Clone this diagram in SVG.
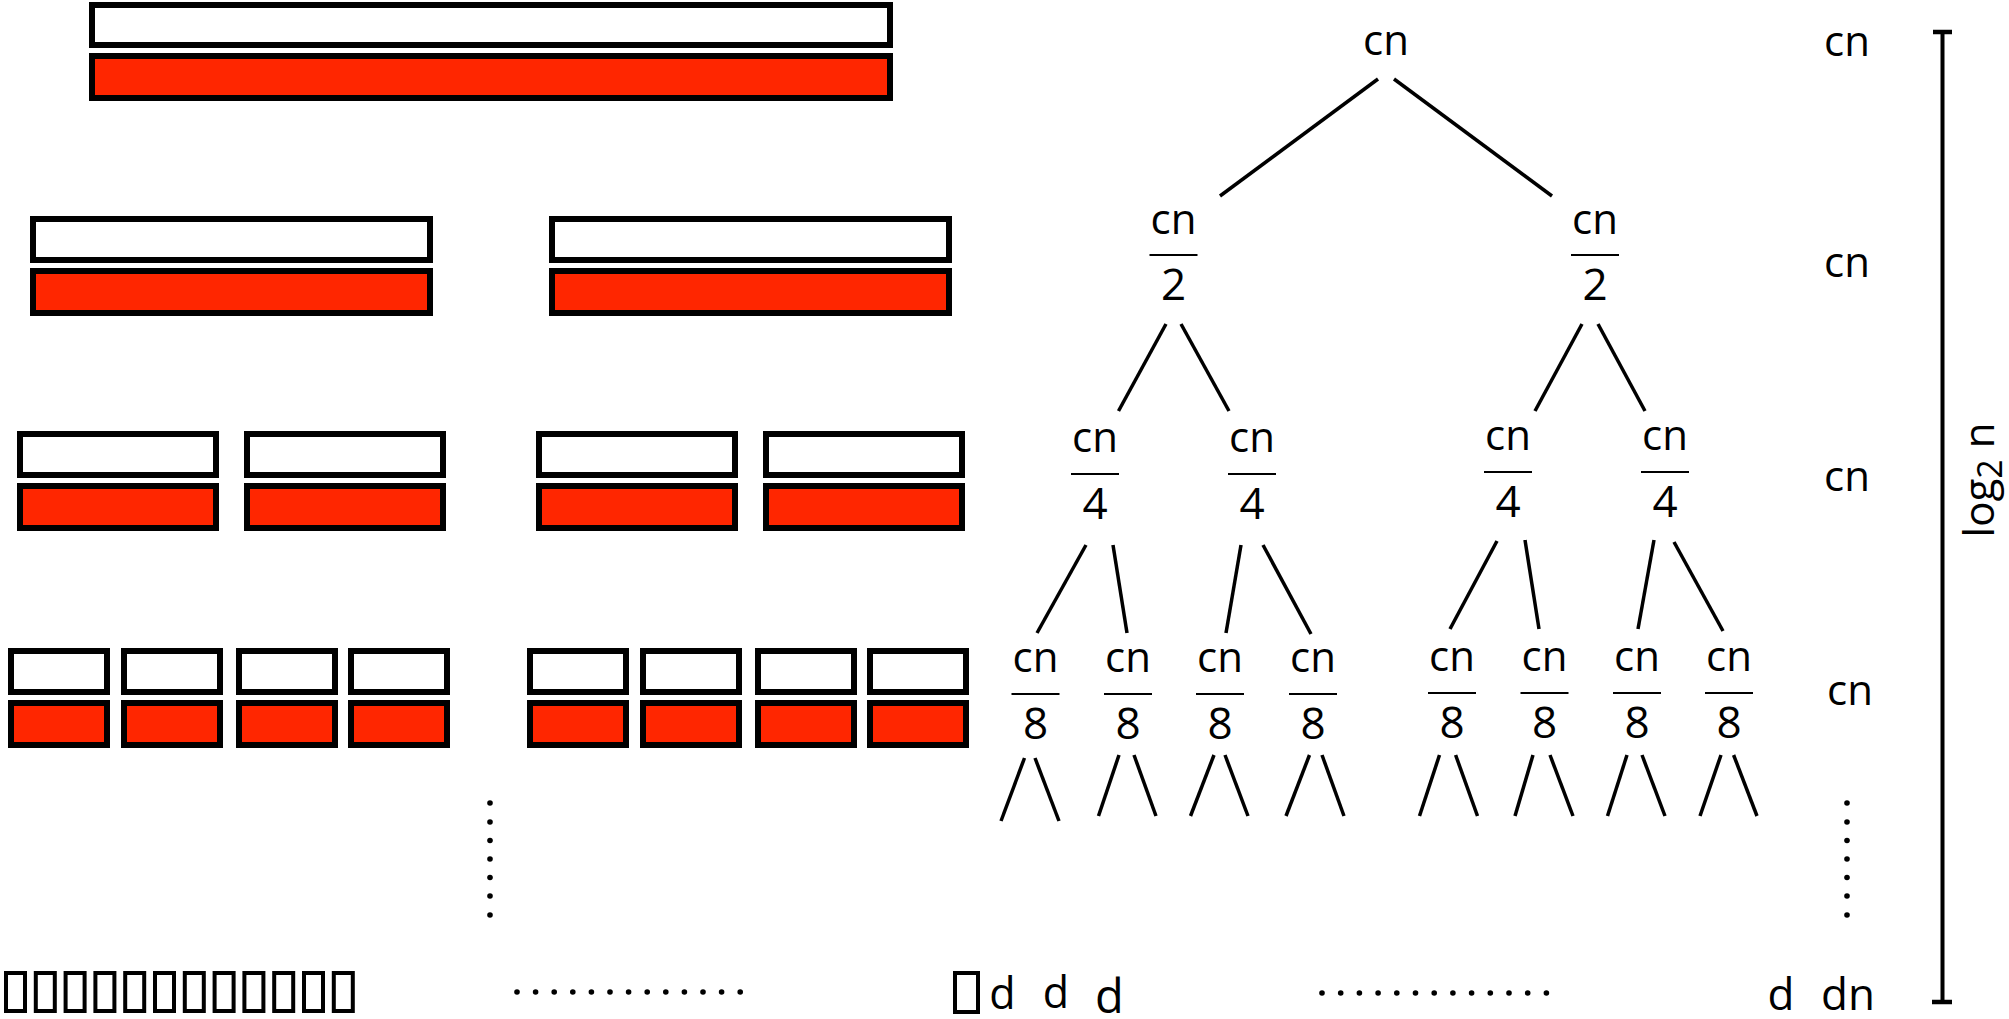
<svg xmlns="http://www.w3.org/2000/svg" width="2009" height="1019" viewBox="0 0 2009 1019">
<style>
.w{fill:#fff;stroke:#000;stroke-width:6}
.r{fill:#ff2600;stroke:#000;stroke-width:6}
.tf{fill:#fff;stroke:#000;stroke-width:4}
.t{font-family:"Open Sans","Noto Sans","DejaVu Sans",sans-serif;font-size:42px;fill:#000;text-anchor:middle}
.dg{font-size:44px}
.e{stroke:#000;stroke-width:3.5;fill:none}
.fb{stroke:#000;stroke-width:2.2}
.dot{fill:#000}
</style>
<defs>
<g id="frac2"><text class="t" x="0" y="0">cn</text><line class="fb" x1="-24" y1="21" x2="24" y2="21"/><text class="t dg" x="0" y="66">2</text></g>
<g id="frac4"><text class="t" x="0" y="0">cn</text><line class="fb" x1="-24" y1="22" x2="24" y2="22"/><text class="t dg" x="0" y="67">4</text></g>
<g id="frac8"><text class="t" x="0" y="0">cn</text><line class="fb" x1="-24" y1="22" x2="24" y2="22"/><text class="t dg" x="0" y="67">8</text></g>
<circle id="d" r="2.8"/>
</defs>

<g id="arrays">
<g id="level1"><rect class="w" x="92" y="5" width="798" height="40"/><rect class="r" x="92" y="56" width="798" height="42"/></g>
<g id="level2">
<rect class="w" x="33" y="219" width="397" height="41"/><rect class="r" x="33" y="271" width="397" height="42"/>
<rect class="w" x="552" y="219" width="397" height="41"/><rect class="r" x="552" y="271" width="397" height="42"/>
</g>
<g id="level3">
<rect class="w" x="20" y="434" width="196" height="41"/><rect class="r" x="20" y="486" width="196" height="42"/>
<rect class="w" x="247" y="434" width="196" height="41"/><rect class="r" x="247" y="486" width="196" height="42"/>
<rect class="w" x="539" y="434" width="196" height="41"/><rect class="r" x="539" y="486" width="196" height="42"/>
<rect class="w" x="766" y="434" width="196" height="41"/><rect class="r" x="766" y="486" width="196" height="42"/>
</g>
<g id="level4">
<rect class="w" x="11" y="651" width="96" height="41"/><rect class="r" x="11" y="703" width="96" height="42"/>
<rect class="w" x="124" y="651" width="96" height="41"/><rect class="r" x="124" y="703" width="96" height="42"/>
<rect class="w" x="239" y="651" width="96" height="41"/><rect class="r" x="239" y="703" width="96" height="42"/>
<rect class="w" x="351" y="651" width="96" height="41"/><rect class="r" x="351" y="703" width="96" height="42"/>
<rect class="w" x="530" y="651" width="96" height="41"/><rect class="r" x="530" y="703" width="96" height="42"/>
<rect class="w" x="643" y="651" width="96" height="41"/><rect class="r" x="643" y="703" width="96" height="42"/>
<rect class="w" x="758" y="651" width="96" height="41"/><rect class="r" x="758" y="703" width="96" height="42"/>
<rect class="w" x="870" y="651" width="96" height="41"/><rect class="r" x="870" y="703" width="96" height="42"/>
</g>
<g id="leaves">
<rect class="tf" x="6" y="973" width="19" height="38"/>
<rect class="tf" x="35.8" y="973" width="19" height="38"/>
<rect class="tf" x="65.6" y="973" width="19" height="38"/>
<rect class="tf" x="95.4" y="973" width="19" height="38"/>
<rect class="tf" x="125.2" y="973" width="19" height="38"/>
<rect class="tf" x="155" y="973" width="19" height="38"/>
<rect class="tf" x="184.8" y="973" width="19" height="38"/>
<rect class="tf" x="214.6" y="973" width="19" height="38"/>
<rect class="tf" x="244.4" y="973" width="19" height="38"/>
<rect class="tf" x="274.2" y="973" width="19" height="38"/>
<rect class="tf" x="304" y="973" width="19" height="38"/>
<rect class="tf" x="333.8" y="973" width="19" height="38"/>
<rect class="tf" x="955" y="973" width="23" height="39"/>
</g>
</g>

<g id="dots">
<use href="#d" x="490" y="803"/><use href="#d" x="490" y="822"/><use href="#d" x="490" y="840.5"/><use href="#d" x="490" y="859"/><use href="#d" x="490" y="877.5"/><use href="#d" x="490" y="896"/><use href="#d" x="490" y="915"/>
<use href="#d" x="517" y="992"/><use href="#d" x="535.6" y="992"/><use href="#d" x="554.2" y="992"/><use href="#d" x="572.8" y="992"/><use href="#d" x="591.4" y="992"/><use href="#d" x="610" y="992"/><use href="#d" x="628.6" y="992"/><use href="#d" x="647.2" y="992"/><use href="#d" x="665.8" y="992"/><use href="#d" x="684.4" y="992"/><use href="#d" x="703" y="992"/><use href="#d" x="721.6" y="992"/><use href="#d" x="740.2" y="992"/>
<use href="#d" x="1847" y="803"/><use href="#d" x="1847" y="822"/><use href="#d" x="1847" y="840.5"/><use href="#d" x="1847" y="859"/><use href="#d" x="1847" y="877.5"/><use href="#d" x="1847" y="896"/><use href="#d" x="1847" y="915"/>
<use href="#d" x="1322" y="993"/><use href="#d" x="1340.7" y="993"/><use href="#d" x="1359.4" y="993"/><use href="#d" x="1378.1" y="993"/><use href="#d" x="1396.8" y="993"/><use href="#d" x="1415.5" y="993"/><use href="#d" x="1434.2" y="993"/><use href="#d" x="1452.9" y="993"/><use href="#d" x="1471.6" y="993"/><use href="#d" x="1490.3" y="993"/><use href="#d" x="1509" y="993"/><use href="#d" x="1527.7" y="993"/><use href="#d" x="1546.4" y="993"/>
</g>

<g id="connectors">
<line class="e" x1="1378" y1="79" x2="1220" y2="196"/>
<line class="e" x1="1394" y1="79" x2="1552" y2="196"/>
<line class="e" x1="1166" y1="324" x2="1118.5" y2="411"/>
<line class="e" x1="1181" y1="324" x2="1229" y2="411"/>
<line class="e" x1="1582" y1="324" x2="1535" y2="411"/>
<line class="e" x1="1598" y1="324" x2="1645" y2="411"/>
<line class="e" x1="1086" y1="545" x2="1037" y2="633"/>
<line class="e" x1="1113" y1="545" x2="1127" y2="633"/>
<line class="e" x1="1241" y1="545" x2="1226" y2="633"/>
<line class="e" x1="1263" y1="545" x2="1311" y2="634"/>
<line class="e" x1="1497" y1="541" x2="1450" y2="629"/>
<line class="e" x1="1525" y1="540" x2="1539" y2="629"/>
<line class="e" x1="1654" y1="540" x2="1638" y2="629"/>
<line class="e" x1="1674" y1="542" x2="1723" y2="631"/>
<line class="e" x1="1024.5" y1="758" x2="1001" y2="821"/>
<line class="e" x1="1035" y1="758" x2="1059" y2="821"/>
<line class="e" x1="1119" y1="755" x2="1098.5" y2="816"/>
<line class="e" x1="1134" y1="755" x2="1156" y2="816"/>
<line class="e" x1="1214" y1="755" x2="1190.5" y2="816"/>
<line class="e" x1="1225" y1="755" x2="1248" y2="816"/>
<line class="e" x1="1309.5" y1="755" x2="1286" y2="816"/>
<line class="e" x1="1322" y1="755" x2="1344" y2="816"/>
<line class="e" x1="1439.5" y1="755" x2="1419.5" y2="816"/>
<line class="e" x1="1455.6" y1="755" x2="1477.5" y2="816"/>
<line class="e" x1="1533" y1="755" x2="1515" y2="816"/>
<line class="e" x1="1550" y1="755" x2="1573" y2="816"/>
<line class="e" x1="1627" y1="755" x2="1607.5" y2="816"/>
<line class="e" x1="1642" y1="755" x2="1665" y2="816"/>
<line class="e" x1="1721" y1="755" x2="1700" y2="816"/>
<line class="e" x1="1733.6" y1="755" x2="1757" y2="816"/>
</g>

<g id="root"><text class="t" x="1386" y="55">cn</text></g>
<g id="n2a"><use href="#frac2" x="1173.5" y="234"/></g>
<g id="n2b"><use href="#frac2" x="1595" y="234"/></g>
<g id="n4a"><use href="#frac4" x="1095" y="452"/></g>
<g id="n4b"><use href="#frac4" x="1252" y="452"/></g>
<g id="n4c"><use href="#frac4" x="1508" y="450"/></g>
<g id="n4d"><use href="#frac4" x="1665" y="450"/></g>
<g id="n8a"><use href="#frac8" x="1035.5" y="672"/></g>
<g id="n8b"><use href="#frac8" x="1128" y="672"/></g>
<g id="n8c"><use href="#frac8" x="1220" y="672"/></g>
<g id="n8d"><use href="#frac8" x="1313" y="672"/></g>
<g id="n8e"><use href="#frac8" x="1452" y="671"/></g>
<g id="n8f"><use href="#frac8" x="1544.5" y="671"/></g>
<g id="n8g"><use href="#frac8" x="1637" y="671"/></g>
<g id="n8h"><use href="#frac8" x="1729" y="671"/></g>

<g id="leaf-labels">
<text class="t" x="1002.5" y="1009" style="font-size:43px">d</text>
<text class="t" x="1056" y="1008" style="font-size:43px">d</text>
<text class="t" x="1109.5" y="1013" style="font-size:47px">d</text>
<text class="t" x="1781" y="1010" style="font-size:44px">d</text>
<text class="t" x="1848" y="1010" style="font-size:44px">dn</text>
</g>

<g id="level-costs">
<text class="t" x="1847" y="56">cn</text>
<text class="t" x="1847" y="277">cn</text>
<text class="t" x="1847" y="491">cn</text>
<text class="t" x="1850" y="705">cn</text>
</g>

<g id="height-bar">
<line x1="1942.5" y1="31" x2="1942.5" y2="1002" stroke="#000" stroke-width="4"/>
<line x1="1933" y1="32" x2="1952" y2="32" stroke="#000" stroke-width="4.5"/>
<line x1="1932" y1="1002" x2="1952" y2="1002" stroke="#000" stroke-width="4.5"/>
<text class="t" transform="translate(1994,480) rotate(-90)" style="font-size:42px">log<tspan dy="8" style="font-size:34px">2</tspan><tspan dy="-8"> n</tspan></text>
</g>
</svg>
